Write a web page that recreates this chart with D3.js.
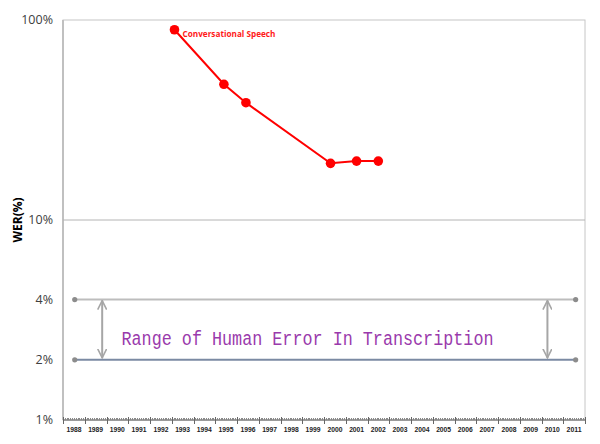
<!DOCTYPE html>
<html><head><meta charset="utf-8">
<script src="https://cdn.jsdelivr.net/npm/d3@7/dist/d3.min.js"></script>
<style>body{margin:0;background:#fff}svg{display:block}</style>
</head><body>
<svg id="c" width="600" height="444"></svg>
<script>
// ---- data ----
const seriesName = "Conversational Speech";
const dates = ["1993-02-15", "1995-05-26", "1996-05-30", "2000-04-20", "2001-07-01", "2002-07-01"];
const werValues = [89.4, 47.7, 38.6, 19.2, 19.7, 19.7];
const yTickValues = [1, 2, 4, 10, 100];
const yTickLabels = ["1%", "2%", "4%", "10%", "100%"];
const yearLabels = d3.range(1988, 2012);
const humanRangeValues = [4, 2];
const humanRangeDates = ["1988-07-16", "2011-07-28"];
const arrowDates = ["1989-10-20", "2010-04-10"];
const humanLabel = "Range of Human Error In Transcription";
const yAxisTitle = "WER(%)";

const parse = d3.timeParse("%Y-%m-%d");
const svg = d3.select("#c");
const L = 63, R = 585, T = 20, B = 420;
const x = d3.scaleTime().domain([new Date(1988,0,1), new Date(2012,0,1)]).range([L, R]);
const y = d3.scaleLog().domain([1, 100]).range([B, T]);

// frame
svg.append("rect").attr("x", L).attr("y", T).attr("width", R - L).attr("height", B - T)
  .attr("fill", "none").attr("stroke", "#c6c6c6").attr("stroke-width", 1);
// left axis
svg.append("line").attr("x1", L).attr("x2", L).attr("y1", T).attr("y2", B)
  .attr("stroke", "#c0c0c0").attr("stroke-width", 2);
// 10% gridline
svg.append("line").attr("x1", L).attr("x2", R).attr("y1", y(10)).attr("y2", y(10))
  .attr("stroke", "#b4b4b4").attr("stroke-width", 1);

// y tick labels
svg.selectAll("text.yl").data(yTickValues).join("text").attr("class", "yl")
  .attr("x", 53).attr("y", d => y(d)).attr("dy", "0.35em").attr("text-anchor", "end")
  .attr("font-family", "'Open Sans', sans-serif").attr("font-size", 12.5).attr("fill", "#404040")
  .text((d, i) => yTickLabels[i]);

svg.append("text").attr("transform", `translate(22,${(T + B) / 2}) rotate(-90)`)
  .attr("text-anchor", "middle").attr("font-family", "'Open Sans', sans-serif")
  .attr("font-weight", "bold").attr("font-size", 12).attr("fill", "#000").text(yAxisTitle);

// x axis
svg.append("line").attr("x1", L).attr("x2", R).attr("y1", B).attr("y2", B)
  .attr("stroke", "#555").attr("stroke-width", 1);
const months = x.ticks(d3.timeMonth.every(1));
svg.selectAll("line.mt").data(months).join("line").attr("class", "mt")
  .attr("x1", d => Math.round(x(d)) + 0.5).attr("x2", d => Math.round(x(d)) + 0.5)
  .attr("y1", B - 2).attr("y2", B).attr("stroke", "#888").attr("stroke-width", 1);
const years = x.ticks(d3.timeYear.every(1));
svg.selectAll("line.yt").data(years).join("line").attr("class", "yt")
  .attr("x1", d => Math.round(x(d)) + 0.5).attr("x2", d => Math.round(x(d)) + 0.5)
  .attr("y1", B - 3).attr("y2", B + 4).attr("stroke", "#666").attr("stroke-width", 1);
svg.selectAll("text.xl").data(yearLabels).join("text").attr("class", "xl")
  .attr("x", d => x(new Date(d, 6, 2))).attr("y", 432).attr("text-anchor", "middle")
  .attr("font-family", "'Liberation Sans Narrow', 'Liberation Sans', sans-serif")
  .attr("font-weight", "bold").attr("font-size", 7).attr("fill", "#222")
  .attr("textLength", 15).attr("lengthAdjust", "spacingAndGlyphs")
  .text(d => d);

// human range lines
const hx0 = x(parse(humanRangeDates[0])), hx1 = x(parse(humanRangeDates[1]));
const hColors = ["#bdbdbd", "#7b8aa3"];
humanRangeValues.forEach((v, i) => {
  svg.append("line").attr("x1", hx0).attr("x2", hx1).attr("y1", y(v)).attr("y2", y(v))
    .attr("stroke", hColors[i]).attr("stroke-width", 2);
  svg.selectAll(null).data(humanRangeDates).join("circle")
    .attr("cx", d => x(parse(d))).attr("cy", y(v)).attr("r", 2.6).attr("fill", "#8c8c8c");
});

// arrows
const defs = svg.append("defs");
defs.append("marker").attr("id", "ah").attr("viewBox", "0 0 10 10").attr("refX", 9).attr("refY", 5)
  .attr("markerWidth", 10).attr("markerHeight", 10).attr("markerUnits", "userSpaceOnUse")
  .attr("orient", "auto-start-reverse")
  .append("path").attr("d", "M0,0.5 L9,5 L0,9.5").attr("fill", "none")
  .attr("stroke", "#a6a6a6").attr("stroke-width", 1.6);
arrowDates.forEach(d => {
  const ax = x(parse(d));
  svg.append("line").attr("x1", ax).attr("x2", ax).attr("y1", y(humanRangeValues[0]) + 1)
    .attr("y2", y(humanRangeValues[1]) - 2).attr("stroke", "#a6a6a6").attr("stroke-width", 2)
    .attr("marker-start", "url(#ah)").attr("marker-end", "url(#ah)");
});

svg.append("text").attr("x", 121.5).attr("y", 345)
  .attr("font-family", "'Liberation Mono', monospace").attr("font-size", 20)
  .attr("fill", "#9a3aac").attr("textLength", 372).attr("lengthAdjust", "spacingAndGlyphs")
  .text(humanLabel);

// series
const pts = dates.map((d, i) => ({ date: parse(d), v: werValues[i] }));
svg.append("path").datum(pts)
  .attr("d", d3.line().x(d => x(d.date)).y(d => y(d.v)))
  .attr("fill", "none").attr("stroke", "#ff0000").attr("stroke-width", 2);
svg.selectAll("circle.pt").data(pts).join("circle").attr("class", "pt")
  .attr("cx", d => x(d.date)).attr("cy", d => y(d.v)).attr("r", 4.8).attr("fill", "#ff0000");
svg.append("text").attr("x", x(pts[0].date) + 8).attr("y", y(pts[0].v) + 7)
  .attr("font-family", "'Open Sans', sans-serif").attr("font-weight", "bold").attr("font-size", 9.5)
  .attr("fill", "#ff1a1a").attr("textLength", 93).attr("lengthAdjust", "spacingAndGlyphs")
  .text(seriesName);
</script>
</body></html>
